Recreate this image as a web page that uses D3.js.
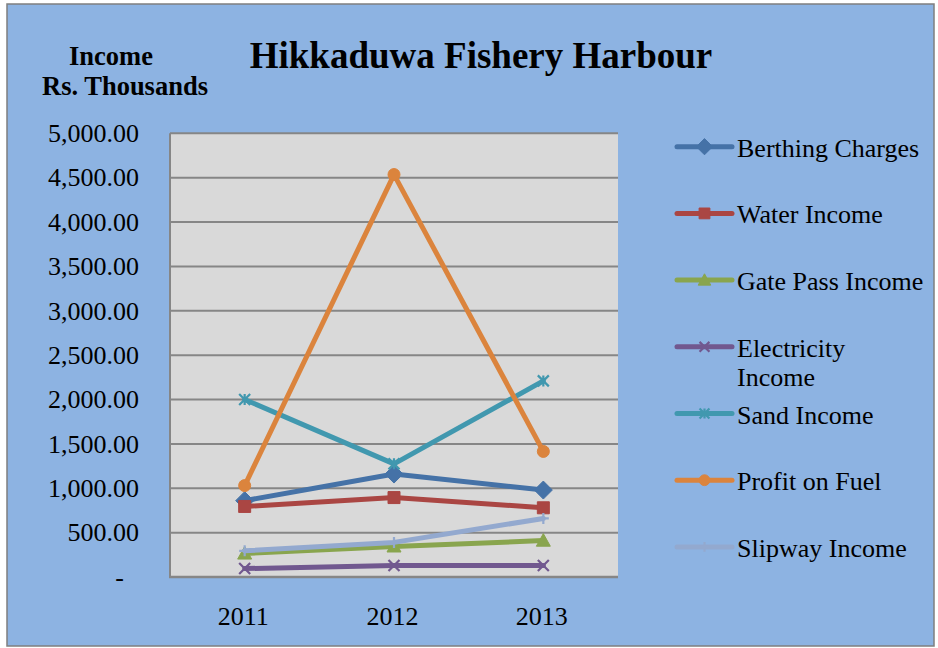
<!DOCTYPE html>
<html>
<head>
<meta charset="utf-8">
<script src="https://cdn.jsdelivr.net/npm/d3@7"></script>
<style>
  html, body { margin: 0; padding: 0; background: #ffffff; }
  svg { display: block; }
  text { font-family: "Liberation Serif", "Times New Roman", serif; fill: #000; }
</style>
</head>
<body>
<svg id="chart" width="938" height="648"></svg>
<script>
// ---- data ----
const years = ["2011", "2012", "2013"];
const seriesNames = ["Berthing Charges", "Water Income", "Gate Pass Income", "Electricity Income", "Sand Income", "Profit on Fuel", "Slipway Income"];
const berthing = [860, 1160, 980];
const water = [795, 895, 780];
const gatePass = [265, 345, 410];
const electricity = [95, 130, 130];
const sand = [2000, 1275, 2210];
const profitFuel = [1030, 4535, 1415];
const slipway = [295, 390, 660];
const yTicks = [0, 500, 1000, 1500, 2000, 2500, 3000, 3500, 4000, 4500, 5000];
const titleText = "Hikkaduwa Fishery Harbour";
const yTitleLines = ["Income", "Rs. Thousands"];

const seriesValues = [berthing, water, gatePass, electricity, sand, profitFuel, slipway];
const colors = ["#4572A7", "#AA4643", "#89A54E", "#71588F", "#4198AF", "#DB843D", "#93A9CF"];
const markers = ["diamond", "square", "triangle", "times", "asterisk", "circle", "plus"];

const svg = d3.select("#chart");
const W = 938, H = 648;

// outer background
svg.append("rect").attr("x", 0).attr("y", 0).attr("width", W).attr("height", H).attr("fill", "#ffffff");
svg.append("rect").attr("x", 7).attr("y", 4).attr("width", 927).attr("height", 642)
  .attr("fill", "#8DB3E2").attr("stroke", "#7f7f7f").attr("stroke-width", 1.5);

const plot = { left: 170, right: 618, top: 133.3, bottom: 577 };

const x = d3.scalePoint().domain(years).range([plot.left, plot.right]).padding(0.5);
const y = d3.scaleLinear().domain([0, 5000]).range([plot.bottom, plot.top]);

// plot area
svg.append("rect").attr("x", plot.left).attr("y", plot.top)
  .attr("width", plot.right - plot.left).attr("height", plot.bottom - plot.top)
  .attr("fill", "#D9D9D9");

// gridlines
svg.append("g").selectAll("line").data(yTicks.filter(d => d > 0)).join("line")
  .attr("x1", plot.left).attr("x2", plot.right)
  .attr("y1", d => y(d)).attr("y2", d => y(d))
  .attr("stroke", "#868686").attr("stroke-width", 2);

// axes lines
svg.append("line").attr("x1", plot.left).attr("x2", plot.left).attr("y1", plot.top).attr("y2", plot.bottom + 1)
  .attr("stroke", "#868686").attr("stroke-width", 2);
svg.append("line").attr("x1", plot.left - 1).attr("x2", plot.right).attr("y1", plot.bottom).attr("y2", plot.bottom)
  .attr("stroke", "#868686").attr("stroke-width", 2.5);

// y axis
const fmt = d3.format(",.2f");
const yAxis = svg.append("g").attr("transform", `translate(${plot.left},0)`)
  .call(d3.axisLeft(y).tickValues(yTicks).tickSize(0).tickPadding(31).tickFormat(d => d === 0 ? "-" : fmt(d)));
yAxis.select(".domain").remove();
yAxis.selectAll("text").attr("font-family", "Liberation Serif, serif").attr("font-size", 26).attr("fill", "#000")
  .attr("dy", "0.32em");
yAxis.selectAll(".tick").filter(d => d === 0).select("text").attr("x", -46);

// x axis
const xAxis = svg.append("g").attr("transform", `translate(0,${plot.bottom})`)
  .call(d3.axisBottom(x).tickSize(0).tickPadding(30));
xAxis.select(".domain").remove();
xAxis.selectAll("text").attr("font-family", "Liberation Serif, serif").attr("font-size", 26).attr("fill", "#000")
  .attr("dx", "-2");

// marker path generator
function markerPath(type, s) {
  const h = s / 2;
  switch (type) {
    case "diamond": return `M0,${-h}L${h},0L0,${h}L${-h},0Z`;
    case "square": return `M${-h},${-h}H${h}V${h}H${-h}Z`;
    case "triangle": return `M0,${-h}L${h},${h * 0.8}L${-h},${h * 0.8}Z`;
    case "circle": return d3.symbol(d3.symbolCircle, Math.PI * h * h)();
    case "times": return `M${-h},${-h}L${h},${h}M${-h},${h}L${h},${-h}`;
    case "asterisk": return `M${-h},${-h}L${h},${h}M${-h},${h}L${h},${-h}M0,${-h}V${h}`;
    case "plus": return `M${-h},0H${h}M0,${-h}V${h}`;
  }
}
const markerSize = { diamond: 18, square: 12, triangle: 14, circle: 12, times: 11, asterisk: 11, plus: 11 };
const strokeMarker = t => (t === "times" || t === "asterisk" || t === "plus");

function drawMarker(g, type, color, cx, cy, scale) {
  const s = markerSize[type] * (scale || 1);
  const p = g.append("path").attr("d", markerPath(type, s)).attr("transform", `translate(${cx},${cy})`);
  if (strokeMarker(type)) p.attr("fill", "none").attr("stroke", color).attr("stroke-width", 2.2);
  else p.attr("fill", color).attr("stroke", color).attr("stroke-width", 1);
}

const line = d3.line().x((d, i) => x(years[i])).y(d => y(d));

// draw series (in order)
seriesValues.forEach((vals, si) => {
  const g = svg.append("g");
  g.append("path").datum(vals).attr("d", line).attr("fill", "none")
    .attr("stroke", colors[si]).attr("stroke-width", 5).attr("stroke-linejoin", "round").attr("stroke-linecap", "round");
  vals.forEach((v, i) => drawMarker(g, markers[si], colors[si], x(years[i]), y(v)));
});

// title
svg.append("text").attr("x", 481).attr("y", 68).attr("text-anchor", "middle")
  .attr("font-size", 37).attr("font-weight", "bold").text(titleText);

// y axis title
svg.append("text").attr("x", 111).attr("y", 65).attr("text-anchor", "middle")
  .attr("font-size", 26.5).attr("font-weight", "bold").text(yTitleLines[0]);
svg.append("text").attr("x", 125).attr("y", 95).attr("text-anchor", "middle")
  .attr("font-size", 26.5).attr("font-weight", "bold").text(yTitleLines[1]);

// legend
const legendTop = 146.7, legendStep = 66.7;
const legend = svg.append("g");
seriesNames.forEach((name, si) => {
  const cy = legendTop + si * legendStep;
  const g = legend.append("g");
  g.append("line").attr("x1", 677).attr("x2", 732).attr("y1", cy).attr("y2", cy)
    .attr("stroke", colors[si]).attr("stroke-width", 5).attr("stroke-linecap", "round");
  drawMarker(g, markers[si], colors[si], 704.5, cy, 0.9);
  const t = g.append("text").attr("x", 737).attr("y", cy + 10).attr("font-size", 26);
  // simple wrapping to the legend's available width
  const words = name.split(" ");
  let lineWords = [];
  let tspan = t.append("tspan").attr("x", 737).attr("dy", 0);
  words.forEach(w => {
    lineWords.push(w);
    tspan.text(lineWords.join(" "));
    if (tspan.node().getComputedTextLength() > 190 && lineWords.length > 1) {
      lineWords.pop();
      tspan.text(lineWords.join(" "));
      lineWords = [w];
      tspan = t.append("tspan").attr("x", 737).attr("dy", 29.5).text(w);
    }
  });
});
</script>
</body>
</html>
